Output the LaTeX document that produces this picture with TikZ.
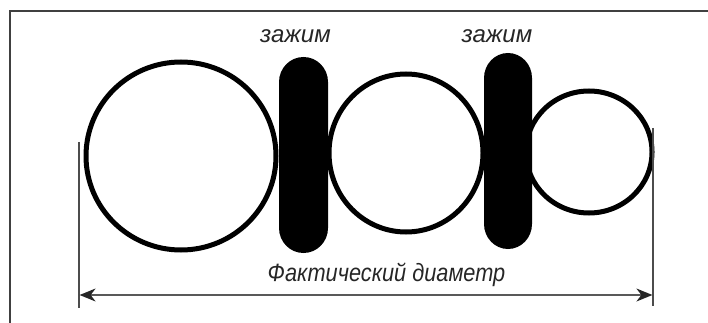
\documentclass[tikz,border=0pt]{standalone}
\usepackage{fontspec}
\setmainfont{Liberation Sans}
\newfontfamily\narrowsans[FakeStretch=0.87]{Liberation Sans}
\usetikzlibrary{arrows.meta}
\tikzset{
  ring/.style={draw=black, line width=5pt},
  clampbody/.style={fill=black, draw=none},
  framing/.style={draw=black!75, line width=1.5pt},
  extline/.style={draw=black!70, line width=1.2pt},
  dimline/.style={draw=black!65, line width=1.6pt, {Stealth[length=16pt,width=13pt,inset=5pt,color=black!85]}-{Stealth[length=16pt,width=13pt,inset=5pt,color=black!85]}},
  lbl/.style={font=\fontsize{24}{28}\selectfont\itshape, text=black!85, inner sep=0pt, anchor=base},
  dimlbl/.style={font=\narrowsans\fontsize{25}{29}\selectfont\itshape, text=black!85, inner sep=0pt, anchor=base}
}
\begin{document}
\begin{tikzpicture}[x=1pt,y=-1pt]
\useasboundingbox (0,0) rectangle (708,323);
% frame
\coordinate (fTR) at (708,11);
\coordinate (fTL) at (10,11);
\coordinate (fBL) at (10,323);
\draw[framing] (fTR) -- (fTL) -- (fBL);
% rings
\draw[ring] (181,156) ellipse [x radius=95, y radius=94];
\draw[ring] (406,153) ellipse [x radius=77, y radius=79];
\draw[ring] (589,152) ellipse [x radius=63, y radius=61];
% clamps (stadium shapes with elliptic ends)
\fill[clampbody] (279,82) arc [start angle=180, end angle=360, x radius=24.5, y radius=25]
  -- (328,228) arc [start angle=0, end angle=180, x radius=24.5, y radius=25] -- cycle;
\fill[clampbody] (484,78) arc [start angle=180, end angle=360, x radius=24, y radius=25]
  -- (532,224) arc [start angle=0, end angle=180, x radius=24, y radius=25] -- cycle;
% labels
\node[lbl] (z1) at (295.5,43) {зажим};
\node[lbl] (z2) at (497,43) {зажим};
\node[dimlbl] (fd) at (386.5,281) {Фактический диаметр};
% dimension
\coordinate (eLt) at (79,142);
\coordinate (eLb) at (79,308);
\coordinate (eRt) at (653,128);
\coordinate (eRb) at (653,306);
\draw[extline] (eLt) -- (eLb);
\draw[extline] (eRt) -- (eRb);
\coordinate (dL) at (79.6,295);
\coordinate (dR) at (652.4,295);
\draw[dimline] (dL) -- (dR);
\end{tikzpicture}
\end{document}
